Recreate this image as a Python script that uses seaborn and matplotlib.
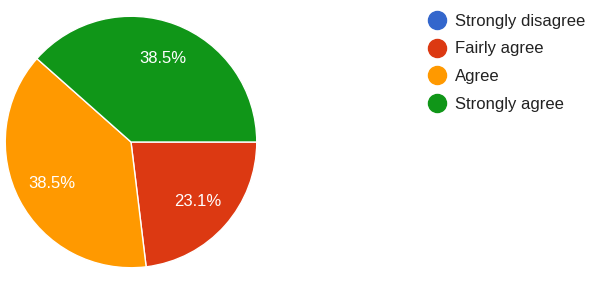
import matplotlib
matplotlib.use("Agg")
import matplotlib.pyplot as plt
from matplotlib.lines import Line2D
import seaborn as sns

# survey answers (Google Forms style pie)
labels = ['Strongly disagree', 'Fairly agree', 'Agree', 'Strongly agree']
shares = [0.0, 23.1, 38.5, 38.5]
colors = ['#3366CC', '#DC3912', '#FF9900', '#109618']

sns.set_theme(style='white')
plt.rcParams['font.family'] = ['Liberation Sans', 'DejaVu Sans']

fig = plt.figure(figsize=(5.95, 2.82), dpi=100, facecolor='white')
ax = fig.add_axes([4 / 595, 13 / 282, 254 / 595, 254 / 282])

# skip the zero slice so it does not draw a label
vals = [v for v in shares if v > 0]
cols = [c for v, c in zip(shares, colors) if v > 0]
wedges, texts, autotexts = ax.pie(
    vals, colors=cols, startangle=0, counterclock=False,
    autopct='%1.1f%%', pctdistance=0.71,
    wedgeprops={'edgecolor': 'white', 'linewidth': 1},
    textprops={'color': 'white', 'fontsize': 12},
)
ax.set_xlim(-1.01, 1.01)
ax.set_ylim(-1.01, 1.01)
ax.set_aspect('equal')
ax.axis('off')

handles = [Line2D([], [], marker='o', linestyle='', markersize=13,
                  markerfacecolor=c, markeredgecolor=c) for c in colors]
leg = fig.legend(handles, labels, loc='upper left',
                 bbox_to_anchor=(420 / 595, 1 - 7 / 282),
                 frameon=False, fontsize=12, handletextpad=0.48,
                 labelspacing=0.76, handlelength=1.2, borderaxespad=0)
for t in leg.get_texts():
    t.set_color('#222222')

fig.savefig('out.png', dpi=100, facecolor='white')
